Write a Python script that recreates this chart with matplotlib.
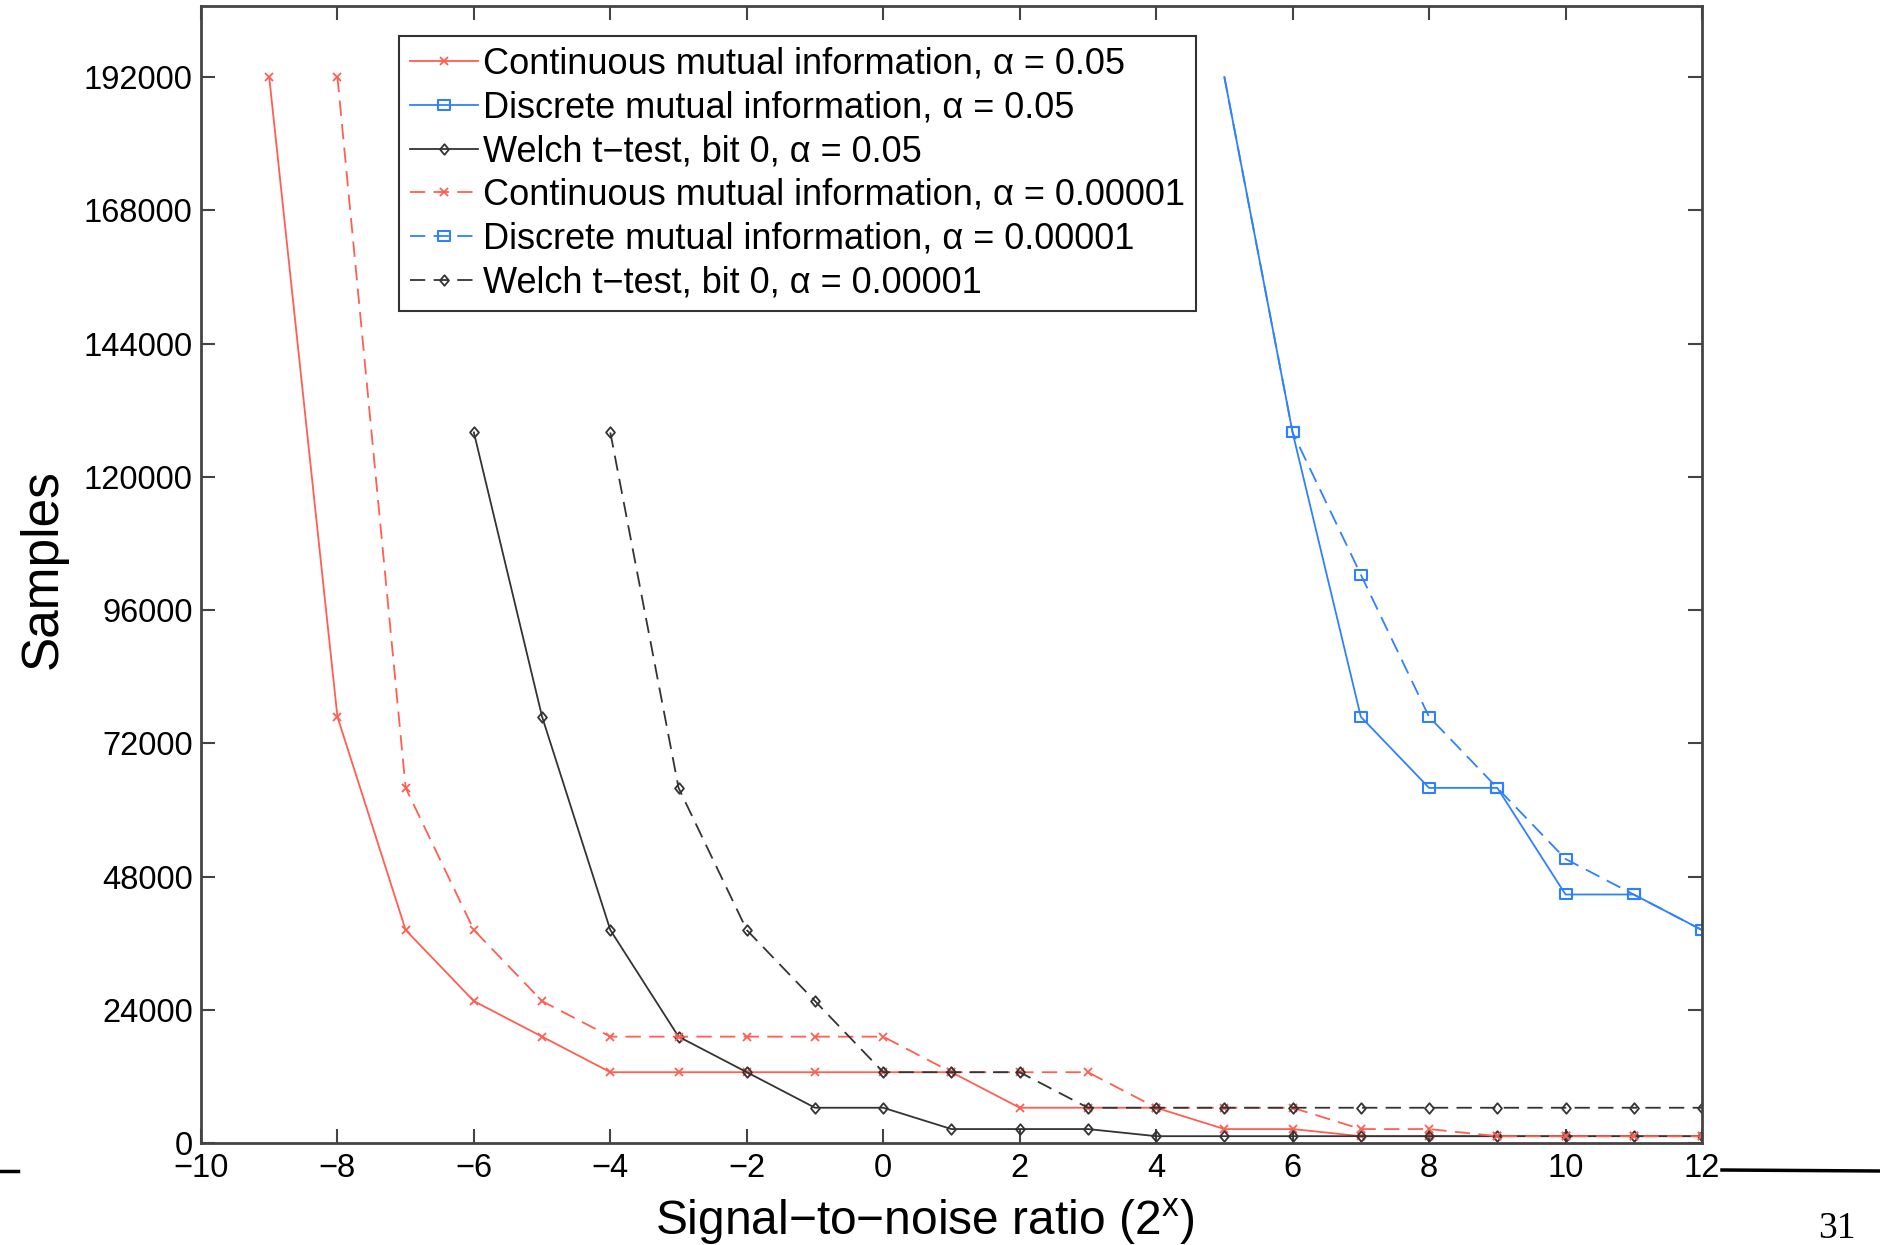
import matplotlib
matplotlib.use("Agg")
import matplotlib.pyplot as plt
from matplotlib.lines import Line2D
from matplotlib.path import Path

# font setup (Helvetica-like look)
plt.rcParams['font.family'] = ['Liberation Sans', 'DejaVu Sans']
plt.rcParams['mathtext.fontset'] = 'custom'
plt.rcParams['mathtext.rm'] = 'Liberation Sans'
plt.rcParams['lines.scale_dashes'] = False

# data
snr = [-10, -9, -8, -7, -6, -5, -4, -3, -2, -1, 0, 1, 2, 3, 4, 5, 6, 7, 8, 9, 10, 11, 12]

cont_x_05 = [-9, -8, -7, -6, -5, -4, -3, -2, -1, 0, 1, 2, 3, 4, 5, 6, 7, 8, 9, 10, 11, 12]
cont_y_05 = [192000, 76800, 38400, 25600, 19200, 12800, 12800, 12800, 12800, 12800, 12800,
             6400, 6400, 6400, 2560, 2560, 1280, 1280, 1280, 1280, 1280, 1280]

disc_x_05 = [5, 6, 7, 8, 9, 10, 11, 12]
disc_y_05 = [192000, 128000, 76800, 64000, 64000, 44800, 44800, 38400]

welch_x_05 = [-6, -5, -4, -3, -2, -1, 0, 1, 2, 3, 4, 5, 6, 7, 8, 9, 10, 11, 12]
welch_y_05 = [128000, 76800, 38400, 19200, 12800, 6400, 6400, 2560, 2560, 2560,
              1280, 1280, 1280, 1280, 1280, 1280, 1280, 1280, 1280]

cont_x_1e5 = [-8, -7, -6, -5, -4, -3, -2, -1, 0, 1, 2, 3, 4, 5, 6, 7, 8, 9, 10, 11, 12]
cont_y_1e5 = [192000, 64000, 38400, 25600, 19200, 19200, 19200, 19200, 19200, 12800, 12800,
              12800, 6400, 6400, 6400, 2560, 2560, 1280, 1280, 1280, 1280]

disc_x_1e5 = [5, 6, 7, 8, 9, 10, 11, 12]
disc_y_1e5 = [192000, 128000, 102400, 76800, 64000, 51200, 44800, 38400]

welch_x_1e5 = [-4, -3, -2, -1, 0, 1, 2, 3, 4, 5, 6, 7, 8, 9, 10, 11, 12]
welch_y_1e5 = [128000, 64000, 38400, 25600, 12800, 12800, 12800, 6400, 6400, 6400, 6400,
               6400, 6400, 6400, 6400, 6400, 6400]

yticks = [0, 24000, 48000, 72000, 96000, 120000, 144000, 168000, 192000]
xticks = [-10, -8, -6, -4, -2, 0, 2, 4, 6, 8, 10, 12]

labels = ['Continuous mutual information, \u03b1 = 0.05',
          'Discrete mutual information, \u03b1 = 0.05',
          'Welch t\u2212test, bit 0, \u03b1 = 0.05',
          'Continuous mutual information, \u03b1 = 0.00001',
          'Discrete mutual information, \u03b1 = 0.00001',
          'Welch t\u2212test, bit 0, \u03b1 = 0.00001']

red = '#ff5e52'
blue = '#2f80ff'
dark = '#333333'
dash = (0, (11, 6))

# MATLAB-ish markers: slightly wide square, slightly narrow diamond
box = Path([(-0.6, -0.5), (0.6, -0.5), (0.6, 0.5), (-0.6, 0.5), (-0.6, -0.5)],
           [Path.MOVETO, Path.LINETO, Path.LINETO, Path.LINETO, Path.CLOSEPOLY])
diamond = Path([(0, -0.5), (0.42, 0), (0, 0.5), (-0.42, 0), (0, -0.5)],
               [Path.MOVETO, Path.LINETO, Path.LINETO, Path.LINETO, Path.CLOSEPOLY])

fig = plt.figure(figsize=(18.8, 12.45), dpi=100)
ax = fig.add_axes([0.1069, 0.0817, 0.7984, 0.9135])

lw = 1.3
ax.plot(cont_x_05, cont_y_05, '-', color=red, lw=lw, marker='x', ms=5.5, mew=1.3, label=labels[0])
ax.plot(disc_x_05, disc_y_05, '-', color=blue, lw=lw, marker=box, ms=8.8, mfc='none', mew=1.5,
        markevery=slice(1, None), label=labels[1])
ax.plot(welch_x_05, welch_y_05, '-', color=dark, lw=lw, marker=diamond, ms=7.6, mfc='none', mew=1.3, label=labels[2])
ax.plot(cont_x_1e5, cont_y_1e5, linestyle=dash, color=red, lw=lw, marker='x', ms=5.5, mew=1.3, label=labels[3])
ax.plot(disc_x_1e5, disc_y_1e5, linestyle=dash, color=blue, lw=lw, marker=box, ms=8.8, mfc='none', mew=1.5,
        markevery=slice(1, None), label=labels[4])
ax.plot(welch_x_1e5, welch_y_1e5, linestyle=dash, color=dark, lw=lw, marker=diamond, ms=7.6, mfc='none', mew=1.3, label=labels[5])

ax.set_xlim(snr[0], snr[-1])
ax.set_ylim(0, 204800)
ax.set_xticks(xticks)
ax.set_yticks(yticks)
ax.set_yticklabels([str(v) for v in yticks])
ax.tick_params(direction='in', length=10, width=1.5, color='#444444', labelsize=23.5,
               top=True, right=True, pad=6)
ax.tick_params(axis='x', pad=7)
for s in ax.spines.values():
    s.set_color('#444444')
    s.set_linewidth(2)

ax.set_xlabel(r'Signal$-$to$-$noise ratio (2$^{\mathrm{x}}$)', fontsize=34.5, va='center')
ax.xaxis.set_label_coords(0.482, -0.069)
ax.set_ylabel('Samples', fontsize=37, va='center')
ax.yaxis.set_label_coords(-0.105, 0.505)

leg = ax.legend(loc='upper left', bbox_to_anchor=(0.1319, 0.9735), borderaxespad=0,
                fontsize=26, frameon=True, fancybox=False, handlelength=1.9,
                handletextpad=0.12, borderpad=0.3, labelspacing=0.24)
leg.get_frame().set_edgecolor('black')
leg.get_frame().set_linewidth(1.5)

# page number and scan marks from the source page
fig.text(1837 / 1880, 1 - 1238 / 1245, '31', family='Liberation Serif', fontsize=27,
         ha='center', va='baseline')
fig.add_artist(Line2D([1722 / 1880, 1.0], [1 - 1170 / 1245, 1 - 1171 / 1245], color='black', lw=2.5))
fig.add_artist(Line2D([0.0, 18 / 1880], [1 - 1171 / 1245, 1 - 1171 / 1245], color='black', lw=2.5))

fig.savefig('out.png', dpi=100)
